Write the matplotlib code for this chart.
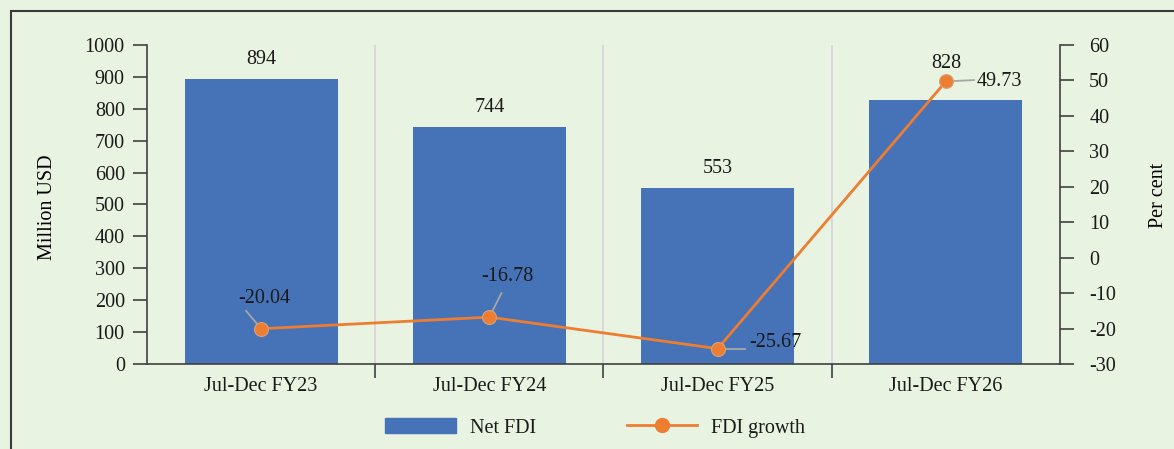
import matplotlib.pyplot as plt
from matplotlib.patches import Rectangle
from matplotlib.lines import Line2D
import numpy as np

categories = ["Jul-Dec FY23", "Jul-Dec FY24", "Jul-Dec FY25", "Jul-Dec FY26"]
net_fdi = [894, 744, 553, 828]
fdi_growth = [-20.04, -16.78, -25.67, 49.73]

BG = "#E8F3E1"
BAR = "#4672B8"
ORANGE = "#ED7D31"
LEADER = "#A6A6A6"
AXIS = "#404040"

plt.rcParams["font.family"] = ["Liberation Serif", "DejaVu Serif"]
plt.rcParams["font.size"] = 14.5
plt.rcParams["axes.unicode_minus"] = False
plt.rcParams["text.color"] = "#1A1A1A"
plt.rcParams["xtick.color"] = "#1A1A1A"
plt.rcParams["ytick.color"] = "#1A1A1A"

fig = plt.figure(figsize=(11.74, 4.49), dpi=100, facecolor=BG)
ax = fig.add_axes([0.1252, 0.1893, 0.7777, 0.7105])
ax.set_facecolor("none")

x = np.arange(len(categories))
bounds = np.arange(0.5, len(categories) - 0.5, 1)

# bars on the left axis
ax.bar(x, net_fdi, width=0.67, color=BAR, zorder=2)
ax.set_ylim(0, 1000)
ax.set_yticks(range(0, 1001, 100))
ax.set_xlim(-0.5, len(categories) - 0.5)
ax.set_xticks(x)
ax.set_xticklabels(categories)
ax.tick_params(axis="x", length=0, pad=9)
ax.set_xticks(bounds, minor=True)
ax.tick_params(axis="x", which="minor", length=10, direction="out", width=1.2, color=AXIS)
ax.tick_params(axis="y", length=10, direction="out", width=1.2, color=AXIS, pad=6)
for b in bounds:
    ax.axvline(b, color="#D6D6D6", linewidth=1.3, zorder=1)
for side in ["top", "right"]:
    ax.spines[side].set_visible(False)
for side in ["left", "bottom"]:
    ax.spines[side].set_color(AXIS)
    ax.spines[side].set_linewidth(1.2)
ax.set_ylabel("Million USD")
ax.yaxis.set_label_coords(-0.099, 0.49)

bar_offsets = [14, 14, 14, 26]
for xi, v, off in zip(x, net_fdi, bar_offsets):
    ax.annotate(f"{v}", (xi, v), xytext=(0, off), textcoords="offset points",
                ha="center", va="center")

# growth line on the right axis
ax2 = ax.twinx()
ax2.plot(x, fdi_growth, color=ORANGE, linewidth=2, marker="o", markersize=10,
         markerfacecolor=ORANGE, markeredgecolor="#D9A27A", markeredgewidth=0.8, zorder=3)
ax2.set_ylim(-30, 60)
ax2.set_yticks(range(-30, 61, 10))
ax2.tick_params(axis="y", length=10, direction="out", width=1.2, color=AXIS, pad=11)
for side in ["top", "left", "bottom"]:
    ax2.spines[side].set_visible(False)
ax2.spines["right"].set_color(AXIS)
ax2.spines["right"].set_linewidth(1.2)
ax2.set_ylabel("Per cent")
ax2.yaxis.set_label_coords(1.098, 0.53)

# data labels with leader lines (offsets in category units / per cent)
text_dx = [0.013, 0.079, 0.14, 0.136]
text_y = [-11.4, -5.45, -23.8, 49.73]
text_ha = ["center", "center", "left", "left"]
leader_end = [(-0.066, -15.0), (0.053, -9.97), (0.118, -25.67), (0.123, 50.1)]
for i, (xi, v) in enumerate(zip(x, fdi_growth)):
    lx, ly = leader_end[i]
    ax2.plot([xi, xi + lx], [v, ly], color=LEADER, linewidth=1.3, zorder=2.5)
    ax2.text(xi + text_dx[i], text_y[i], f"{v:.2f}", ha=text_ha[i], va="center", zorder=4)

# legend
handles = [Rectangle((0, 0), 1, 1, color=BAR),
           Line2D([0], [0], color=ORANGE, linewidth=2, marker="o", markersize=10,
                  markerfacecolor=ORANGE, markeredgecolor=ORANGE)]
fig.legend(handles, ["Net FDI", "FDI growth"], loc="center", bbox_to_anchor=(0.507, 0.047),
           ncol=2, frameon=False, handlelength=3.5, handleheight=0.75, columnspacing=4.5,
           handletextpad=0.7)

# outer frame
fig.patches.append(Rectangle((11 / 1174, -0.1), 1.2, 1 - 11 / 449 + 0.1, transform=fig.transFigure,
                             fill=False, edgecolor="#3A3A3A", linewidth=1.5, zorder=0))

fig.savefig("out.png", dpi=100, facecolor=BG)
